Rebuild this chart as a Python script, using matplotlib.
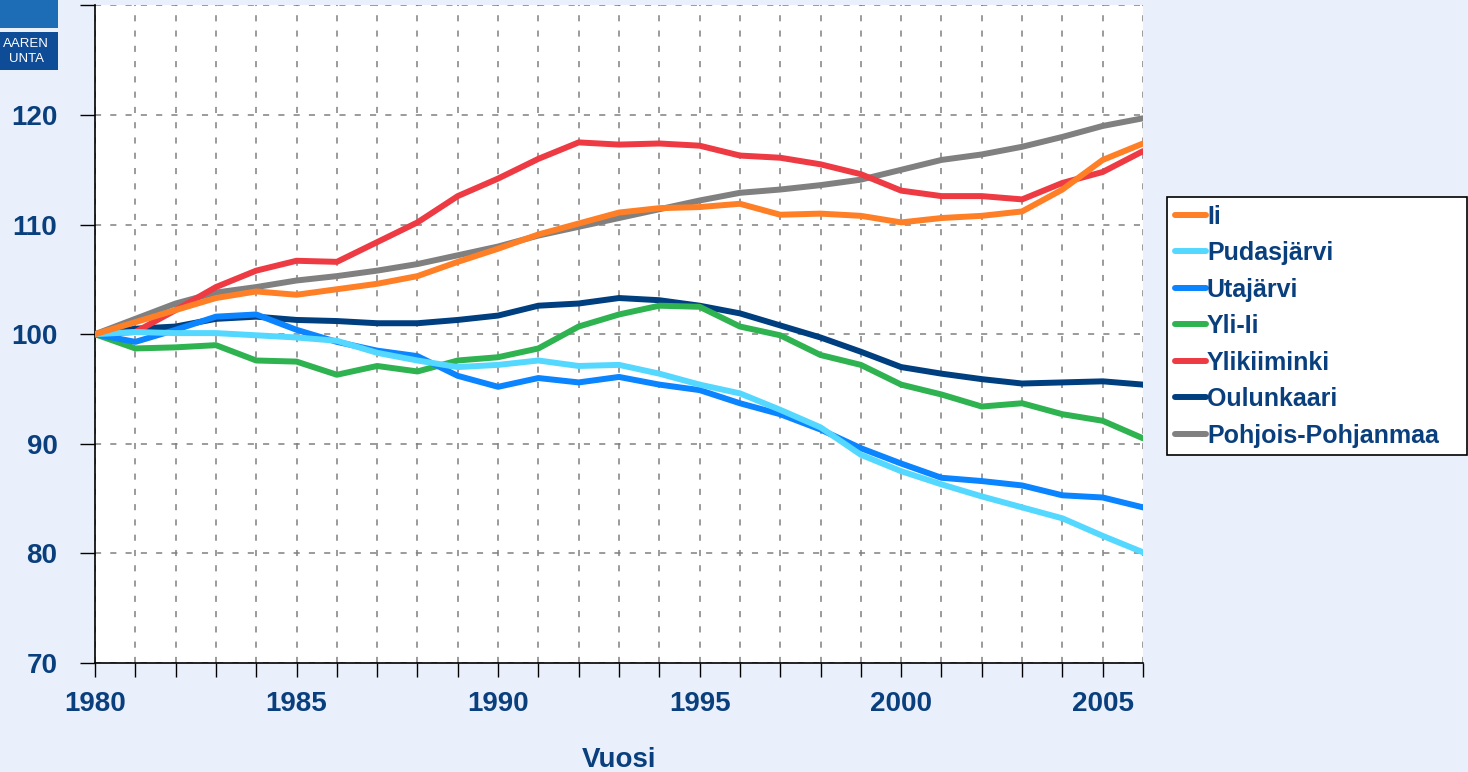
import numpy as np
import matplotlib
matplotlib.use("Agg")
import matplotlib.pyplot as plt
from matplotlib.patches import Rectangle

# ==================================
# DATA (index, 1980 = 100)
# ==================================
years = list(range(1980, 2007))

ii = [100.0, 101.1, 102.2, 103.3, 103.9, 103.6, 104.1, 104.6, 105.3, 106.6,
      107.8, 109.1, 110.1, 111.1, 111.5, 111.6, 111.9, 110.9, 111.0, 110.8,
      110.2, 110.6, 110.8, 111.2, 113.2, 115.9, 117.4]
pudasjarvi = [100.0, 100.2, 100.1, 100.1, 99.9, 99.7, 99.4, 98.3, 97.6, 97.0,
              97.2, 97.6, 97.1, 97.2, 96.4, 95.4, 94.6, 93.1, 91.5, 89.0,
              87.5, 86.3, 85.2, 84.2, 83.2, 81.6, 80.1]
utajarvi = [100.0, 99.3, 100.4, 101.6, 101.8, 100.4, 99.3, 98.5, 98.0, 96.2,
            95.2, 96.0, 95.6, 96.1, 95.4, 94.9, 93.7, 92.7, 91.3, 89.6,
            88.2, 86.9, 86.6, 86.2, 85.3, 85.1, 84.2]
yli_ii = [100.0, 98.7, 98.8, 99.0, 97.6, 97.5, 96.3, 97.1, 96.6, 97.6,
          97.9, 98.7, 100.7, 101.8, 102.6, 102.5, 100.7, 99.9, 98.1, 97.2,
          95.4, 94.5, 93.4, 93.7, 92.7, 92.1, 90.5]
ylikiiminki = [100.0, 100.2, 102.2, 104.3, 105.8, 106.7, 106.6, 108.4, 110.2, 112.6,
               114.2, 116.0, 117.5, 117.3, 117.4, 117.2, 116.3, 116.1, 115.5, 114.6,
               113.1, 112.6, 112.6, 112.3, 113.8, 114.8, 116.7]
oulunkaari = [100.0, 100.5, 100.7, 101.4, 101.6, 101.3, 101.2, 101.0, 101.0, 101.3,
              101.7, 102.6, 102.8, 103.3, 103.1, 102.6, 101.9, 100.8, 99.7, 98.4,
              97.0, 96.4, 95.9, 95.5, 95.6, 95.7, 95.4]
pohjois_pohjanmaa = [100.0, 101.4, 102.8, 103.8, 104.3, 104.9, 105.3, 105.8, 106.4, 107.2,
                     108.0, 109.0, 109.8, 110.6, 111.4, 112.2, 112.9, 113.2, 113.6, 114.1,
                     115.0, 115.9, 116.4, 117.1, 118.0, 119.0, 119.7]

labels = ["Ii", "Pudasjärvi", "Utajärvi", "Yli-Ii", "Ylikiiminki",
          "Oulunkaari", "Pohjois-Pohjanmaa"]
series = [ii, pudasjarvi, utajarvi, yli_ii, ylikiiminki, oulunkaari, pohjois_pohjanmaa]
colors = ["#FF7F27", "#55D8FF", "#0A84FF", "#2EB350", "#EE3A43", "#003F7F", "#808080"]

y_ticks = [70, 80, 90, 100, 110, 120, 130]

# ==================================
# STYLE
# ==================================
BG = "#E9F0FB"
NAVY = "#0A3F7E"
plt.rcParams["font.family"] = ["Liberation Sans", "DejaVu Sans"]
plt.rcParams["font.weight"] = "bold"

fig = plt.figure(figsize=(14.68, 7.72), dpi=100, facecolor=BG)
ax = fig.add_axes([95/1468, 1-663/772, (1143-95)/1468, (663-5.4)/772])
ax.set_facecolor("white")

n = len(series)
for i, (lab, vals, col) in enumerate(zip(labels, series, colors)):
    ax.plot(years, vals, color=col, lw=4.3, label=lab, zorder=10+n-i,
            solid_capstyle="round", solid_joinstyle="round")

ax.set_xlim(1980, 2006)
ax.set_ylim(70, 130)

ax.set_xticks(years)
ax.set_xticklabels([str(y) if y % 5 == 0 else "" for y in years])
ax.set_yticks(y_ticks)
ax.set_yticklabels([str(v) if v < 130 else "" for v in y_ticks])

ax.tick_params(axis="x", direction="out", length=10, width=1, color="black",
               labelsize=20, labelcolor=NAVY, pad=10)
ax.tick_params(axis="y", direction="out", length=11, width=1, color="black",
               labelsize=20, labelcolor=NAVY, pad=16)

ax.grid(True, color="#808080", linestyle=(0, (4, 6)), linewidth=1.1, zorder=1)
ax.set_axisbelow(True)

for s in ["top", "right"]:
    ax.spines[s].set_visible(False)
for s in ["left", "bottom"]:
    ax.spines[s].set_color("black")
    ax.spines[s].set_linewidth(1.2)

ax.set_xlabel("Vuosi", fontsize=20, color=NAVY, fontweight="bold", labelpad=22)

leg = ax.legend(loc="upper left",
                bbox_to_anchor=(1167/1468, 1-455/772, 300/1468, 258/772),
                bbox_transform=fig.transFigure, borderaxespad=0, mode="expand",
                fancybox=False, edgecolor="black", framealpha=1,
                prop={"size": 18, "weight": "bold"},
                handlelength=1.25, handletextpad=0.05, labelspacing=0.5,
                borderpad=0.3)
leg.get_frame().set_linewidth(1.2)
for t in leg.get_texts():
    t.set_color(NAVY)
for h in leg.get_lines():
    h.set_linewidth(4.3)
    h.set_solid_capstyle("round")

# logo fragment in the corner
fig.patches.append(Rectangle((0, 1-28/772), 58/1468, 28/772, transform=fig.transFigure,
                             facecolor="#1C6DB5", edgecolor="none"))
fig.patches.append(Rectangle((0, 1-70/772), 58/1468, 38/772, transform=fig.transFigure,
                             facecolor="#0F4C97", edgecolor="none"))
fig.text(49/1468, 1-44/772, "AAREN", color="white", fontsize=9.5,
         fontweight="normal", ha="right", va="center")
fig.text(44/1468, 1-59/772, "UNTA", color="white", fontsize=9.5,
         fontweight="normal", ha="right", va="center")

fig.savefig("out.png", dpi=100, facecolor=BG)
